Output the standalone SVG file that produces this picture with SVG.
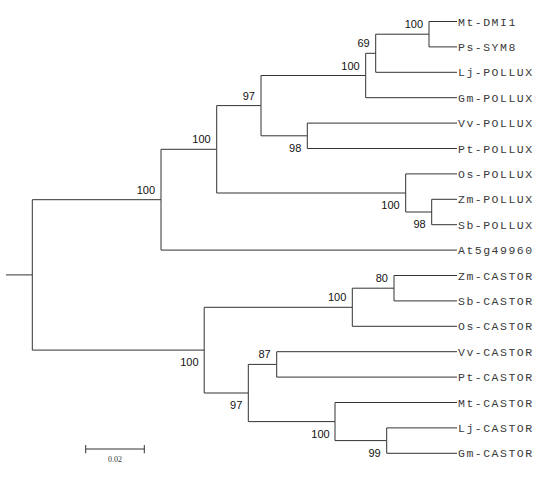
<svg xmlns="http://www.w3.org/2000/svg" width="543" height="479" viewBox="0 0 543 479">
<style>
.br{fill:none;stroke:#333;stroke-width:1}
.leaf{font-family:"Liberation Mono",monospace;font-size:11.5px;letter-spacing:1.5px;fill:#3a3a3a}
.bs{font-family:"Liberation Sans",Arial,sans-serif;font-size:11px;fill:#111;text-anchor:end}
.sc{font-family:"Liberation Serif",serif;font-size:8px;fill:#333;text-anchor:middle}
</style>
<rect width="543" height="479" fill="#fff"/>
<g id="connectors">
<path class="br" d="M6,274.9H32.3"/>
<path class="br" d="M32.3,274.9V199.7H161"/>
<path class="br" d="M32.3,274.9V350.1H204.2"/>
<path class="br" d="M161,199.7V149.3H216.7"/>
<path class="br" d="M161,199.7V250.1H457"/>
<path class="br" d="M216.7,149.3V105.6H261"/>
<path class="br" d="M216.7,149.3V193H405.7"/>
<path class="br" d="M261,105.6V75.5H365.7"/>
<path class="br" d="M261,105.6V135.8H307.3"/>
<path class="br" d="M365.7,75.5V53.3H375.7"/>
<path class="br" d="M365.7,75.5V97.7H457"/>
<path class="br" d="M375.7,53.3V34.2H429"/>
<path class="br" d="M375.7,53.3V72.3H457"/>
<path class="br" d="M429,34.2V21.5H457"/>
<path class="br" d="M429,34.2V46.9H457"/>
<path class="br" d="M307.3,135.8V123.1H457"/>
<path class="br" d="M307.3,135.8V148.5H457"/>
<path class="br" d="M405.7,193V173.9H457"/>
<path class="br" d="M405.7,193V212H431.7"/>
<path class="br" d="M431.7,212V199.3H457"/>
<path class="br" d="M431.7,212V224.7H457"/>
<path class="br" d="M204.2,350.1V307.3H352.3"/>
<path class="br" d="M204.2,350.1V393H248.3"/>
<path class="br" d="M352.3,307.3V288.2H394"/>
<path class="br" d="M352.3,307.3V326.3H457"/>
<path class="br" d="M394,288.2V275.5H457"/>
<path class="br" d="M394,288.2V300.9H457"/>
<path class="br" d="M248.3,393V364.4H276.7"/>
<path class="br" d="M248.3,393V421.6H335"/>
<path class="br" d="M276.7,364.4V351.7H457"/>
<path class="br" d="M276.7,364.4V377.1H457"/>
<path class="br" d="M335,421.6V402.5H457"/>
<path class="br" d="M335,421.6V440.6H386.7"/>
<path class="br" d="M386.7,440.6V427.9H457"/>
<path class="br" d="M386.7,440.6V453.3H457"/>
</g>
<g id="leaves">
<g id="leaf-Mt-DMI1"><text class="leaf" x="458" y="25.5">Mt-DMI1</text></g>
<g id="leaf-Ps-SYM8"><text class="leaf" x="458" y="50.9">Ps-SYM8</text></g>
<g id="leaf-Lj-POLLUX"><text class="leaf" x="458" y="76.3">Lj-POLLUX</text></g>
<g id="leaf-Gm-POLLUX"><text class="leaf" x="458" y="101.7">Gm-POLLUX</text></g>
<g id="leaf-Vv-POLLUX"><text class="leaf" x="458" y="127.1">Vv-POLLUX</text></g>
<g id="leaf-Pt-POLLUX"><text class="leaf" x="458" y="152.5">Pt-POLLUX</text></g>
<g id="leaf-Os-POLLUX"><text class="leaf" x="458" y="177.9">Os-POLLUX</text></g>
<g id="leaf-Zm-POLLUX"><text class="leaf" x="458" y="203.3">Zm-POLLUX</text></g>
<g id="leaf-Sb-POLLUX"><text class="leaf" x="458" y="228.7">Sb-POLLUX</text></g>
<g id="leaf-At5g49960"><text class="leaf" x="458" y="254.1">At5g49960</text></g>
<g id="leaf-Zm-CASTOR"><text class="leaf" x="458" y="279.5">Zm-CASTOR</text></g>
<g id="leaf-Sb-CASTOR"><text class="leaf" x="458" y="304.9">Sb-CASTOR</text></g>
<g id="leaf-Os-CASTOR"><text class="leaf" x="458" y="330.3">Os-CASTOR</text></g>
<g id="leaf-Vv-CASTOR"><text class="leaf" x="458" y="355.7">Vv-CASTOR</text></g>
<g id="leaf-Pt-CASTOR"><text class="leaf" x="458" y="381.1">Pt-CASTOR</text></g>
<g id="leaf-Mt-CASTOR"><text class="leaf" x="458" y="406.5">Mt-CASTOR</text></g>
<g id="leaf-Lj-CASTOR"><text class="leaf" x="458" y="431.9">Lj-CASTOR</text></g>
<g id="leaf-Gm-CASTOR"><text class="leaf" x="458" y="457.3">Gm-CASTOR</text></g>
</g>
<g id="internal-nodes">
<g id="node-A"><text class="bs" x="155" y="193.7">100</text></g>
<g id="node-C"><text class="bs" x="210.7" y="143.3">100</text></g>
<g id="node-D"><text class="bs" x="255" y="99.6">97</text></g>
<g id="node-F"><text class="bs" x="359.7" y="69.5">100</text></g>
<g id="node-H"><text class="bs" x="369.7" y="47.3">69</text></g>
<g id="node-I"><text class="bs" x="423" y="28.2">100</text></g>
<g id="node-G"><text class="bs" x="301.3" y="151.8">98</text></g>
<g id="node-E"><text class="bs" x="399.7" y="209">100</text></g>
<g id="node-P"><text class="bs" x="425.7" y="228">98</text></g>
<g id="node-B"><text class="bs" x="198.6" y="366.1">100</text></g>
<g id="node-J"><text class="bs" x="346.3" y="301.3">100</text></g>
<g id="node-L"><text class="bs" x="388" y="282.2">80</text></g>
<g id="node-K"><text class="bs" x="242.3" y="409">97</text></g>
<g id="node-M"><text class="bs" x="270.7" y="358.4">87</text></g>
<g id="node-N"><text class="bs" x="329.7" y="437.6">100</text></g>
<g id="node-O"><text class="bs" x="380.7" y="456.6">99</text></g>
</g>
<g id="scale-bar">
<path class="br" d="M85.7,449H144.3M85.7,445V453.3M144.3,445V453.3"/>
<text class="sc" x="115" y="462.3">0.02</text>
</g>
</svg>
